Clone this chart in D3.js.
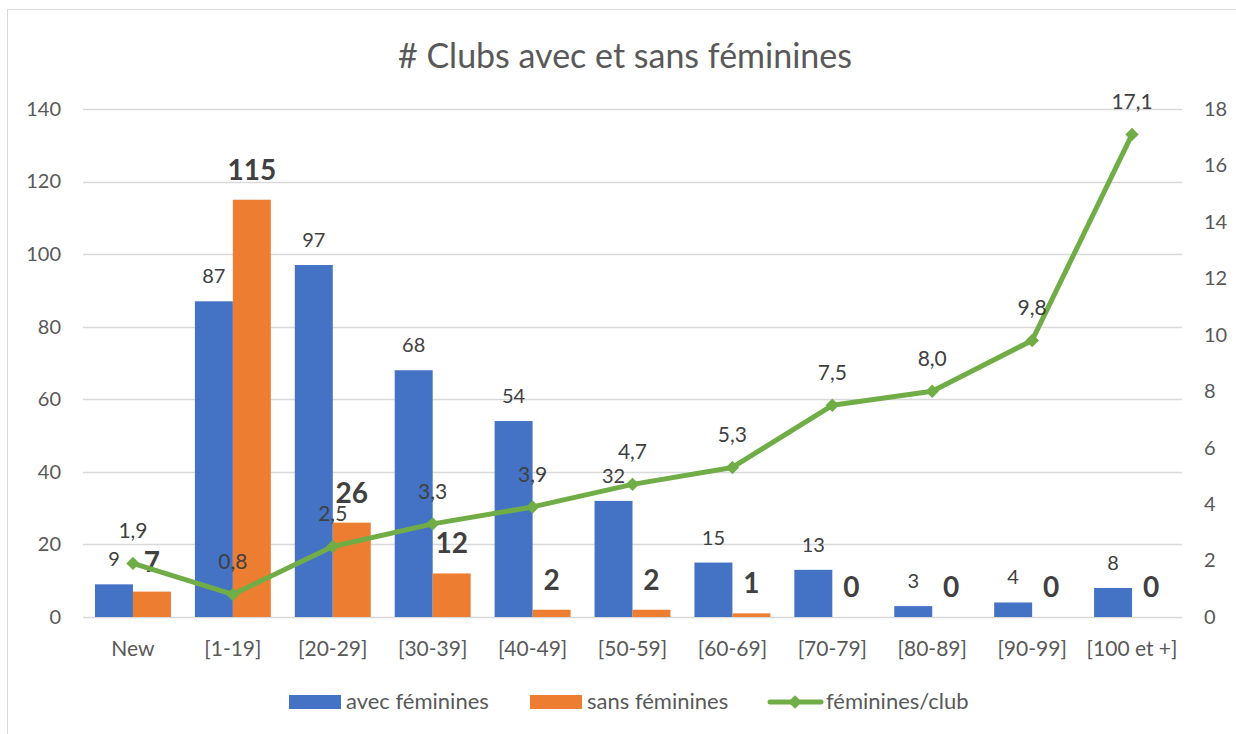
<!DOCTYPE html>
<html>
<head>
<meta charset="utf-8">
<script src="https://cdn.jsdelivr.net/npm/d3@7"></script>
<style>
  body { margin: 0; background: #fff; }
  svg { display: block; font-family: Lato, "Open Sans", sans-serif; }
</style>
</head>
<body>
<div id="chart"></div>
<script>
var categories = ["New", "[1-19]", "[20-29]", "[30-39]", "[40-49]", "[50-59]", "[60-69]", "[70-79]", "[80-89]", "[90-99]", "[100 et +]"];
var avecFeminines = [9, 87, 97, 68, 54, 32, 15, 13, 3, 4, 8];
var sansFeminines = [7, 115, 26, 12, 2, 2, 1, 0, 0, 0, 0];
var femininesParClub = [1.9, 0.8, 2.5, 3.3, 3.9, 4.7, 5.3, 7.5, 8.0, 9.8, 17.1];
var leftTicks = [0, 20, 40, 60, 80, 100, 120, 140];
var rightTicks = [0, 2, 4, 6, 8, 10, 12, 14, 16, 18];
var seriesNames = ["avec féminines", "sans féminines", "féminines/club"];

var W = 1236, H = 734;
var margin = {top: 109, right: 54, bottom: 117, left: 83};
var innerW = W - margin.left - margin.right,
    innerH = H - margin.top - margin.bottom;

var blue = "#4472C4", orange = "#ED7D31", green = "#70AD47";
var textCol = "#595959", labelCol = "#404040";

var svg = d3.select("#chart").append("svg")
    .attr("width", W)
    .attr("height", H);

// outer chart frame (only top/left edges are in view)
svg.append("rect")
    .attr("x", 7.5).attr("y", 9.5)
    .attr("width", 1300).attr("height", 900)
    .attr("fill", "none")
    .attr("stroke", "#d9d9d9");

svg.append("text")
    .attr("x", 625).attr("y", 68)
    .attr("text-anchor", "middle")
    .attr("fill", textCol)
    .style("font-size", "34px")
    .text("# Clubs avec et sans féminines");

var g = svg.append("g")
    .attr("transform", "translate(" + margin.left + "," + margin.top + ")");

var x0 = d3.scaleBand()
    .domain(categories)
    .range([0, innerW])
    .paddingInner(0.24)
    .paddingOuter(0.12);

var x1 = d3.scaleBand()
    .domain([0, 1])
    .range([0, x0.bandwidth()]);

var y = d3.scaleLinear().domain([0, 140]).range([innerH, 0]);
var y2 = d3.scaleLinear().domain([0, 18]).range([innerH, 0]);

// gridlines
g.selectAll(".grid")
    .data(leftTicks)
    .enter().append("line")
    .attr("class", "grid")
    .attr("x1", 0).attr("x2", innerW)
    .attr("y1", function(d) { return Math.round(y(d)) + 0.5; })
    .attr("y2", function(d) { return Math.round(y(d)) + 0.5; })
    .attr("stroke", "#d9d9d9")
    .attr("stroke-width", 1.5);

// left axis
var yAxis = g.append("g")
    .call(d3.axisLeft(y).tickValues(leftTicks).tickSize(0).tickPadding(22));
yAxis.select(".domain").remove();
yAxis.selectAll("text").attr("fill", textCol).style("font-size", "20px").style("font-family", "Lato, sans-serif");

// right axis
var yAxis2 = g.append("g")
    .attr("transform", "translate(" + innerW + ",0)")
    .call(d3.axisRight(y2).tickValues(rightTicks).tickSize(0).tickPadding(22));
yAxis2.select(".domain").remove();
yAxis2.selectAll("text").attr("fill", textCol).style("font-size", "20px").style("font-family", "Lato, sans-serif");

// bottom axis
var xAxis = g.append("g")
    .attr("transform", "translate(0," + innerH + ")")
    .call(d3.axisBottom(x0).tickSize(0).tickPadding(24));
xAxis.select(".domain").remove();
xAxis.selectAll("text").attr("fill", textCol).style("font-size", "21px").style("font-family", "Lato, sans-serif");

// bars
var groups = g.selectAll(".cat")
    .data(categories)
    .enter().append("g")
    .attr("class", "cat")
    .attr("transform", function(d) { return "translate(" + x0(d) + ",0)"; });

groups.append("rect")
    .attr("x", x1(0))
    .attr("width", x1.bandwidth())
    .attr("y", function(d, i) { return y(avecFeminines[i]); })
    .attr("height", function(d, i) { return innerH - y(avecFeminines[i]); })
    .attr("fill", blue);

groups.append("rect")
    .attr("x", x1(1))
    .attr("width", x1.bandwidth())
    .attr("y", function(d, i) { return y(sansFeminines[i]); })
    .attr("height", function(d, i) { return innerH - y(sansFeminines[i]); })
    .attr("fill", orange);

// line
var line = d3.line()
    .x(function(d, i) { return x0(categories[i]) + x0.bandwidth() / 2; })
    .y(function(d) { return y2(d); });

g.append("path")
    .datum(femininesParClub)
    .attr("d", line)
    .attr("fill", "none")
    .attr("stroke", green)
    .attr("stroke-width", 5)
    .attr("stroke-linejoin", "round");

var diamond = d3.symbol().type(d3.symbolDiamond2).size(115);
g.selectAll(".pt")
    .data(femininesParClub)
    .enter().append("path")
    .attr("class", "pt")
    .attr("d", diamond)
    .attr("transform", function(d, i) {
      return "translate(" + (x0(categories[i]) + x0.bandwidth() / 2) + "," + y2(d) + ")";
    })
    .attr("fill", green);

// data labels
groups.append("text")
    .attr("x", x1(0) + x1.bandwidth() / 2)
    .attr("y", function(d, i) { return y(avecFeminines[i]) - 18; })
    .attr("text-anchor", "middle")
    .attr("fill", labelCol)
    .style("font-size", "20px")
    .text(function(d, i) { return avecFeminines[i]; });

groups.append("text")
    .attr("x", x1(1) + x1.bandwidth() / 2)
    .attr("y", function(d, i) { return y(sansFeminines[i]) - 20; })
    .attr("text-anchor", "middle")
    .attr("fill", labelCol)
    .style("font-size", "28px")
    .style("font-weight", "bold")
    .text(function(d, i) { return sansFeminines[i]; });

var fmt = function(v) { return d3.format(".1f")(v).replace(".", ","); };
g.selectAll(".lbl")
    .data(femininesParClub)
    .enter().append("text")
    .attr("class", "lbl")
    .attr("x", function(d, i) { return x0(categories[i]) + x0.bandwidth() / 2; })
    .attr("y", function(d) { return y2(d) - 25; })
    .attr("text-anchor", "middle")
    .attr("fill", labelCol)
    .style("font-size", "21px")
    .text(fmt);

// legend
var legend = svg.append("g").attr("transform", "translate(0,702)");
var lx = [289, 530, 768];

legend.append("rect").attr("x", lx[0]).attr("y", -7).attr("width", 52).attr("height", 14).attr("fill", blue);
legend.append("rect").attr("x", lx[1]).attr("y", -7).attr("width", 52).attr("height", 14).attr("fill", orange);
legend.append("line")
    .attr("x1", lx[2] + 2).attr("x2", lx[2] + 53)
    .attr("stroke", green).attr("stroke-width", 5).attr("stroke-linecap", "round");
legend.append("path")
    .attr("d", diamond)
    .attr("transform", "translate(" + (lx[2] + 27) + ",0)")
    .attr("fill", green);

legend.selectAll(".ltxt")
    .data(seriesNames)
    .enter().append("text")
    .attr("class", "ltxt")
    .attr("x", function(d, i) { return lx[i] + (i == 2 ? 58 : 57); })
    .attr("y", 7)
    .attr("fill", textCol)
    .style("font-size", "22px")
    .text(function(d) { return d; });
</script>
</body>
</html>
